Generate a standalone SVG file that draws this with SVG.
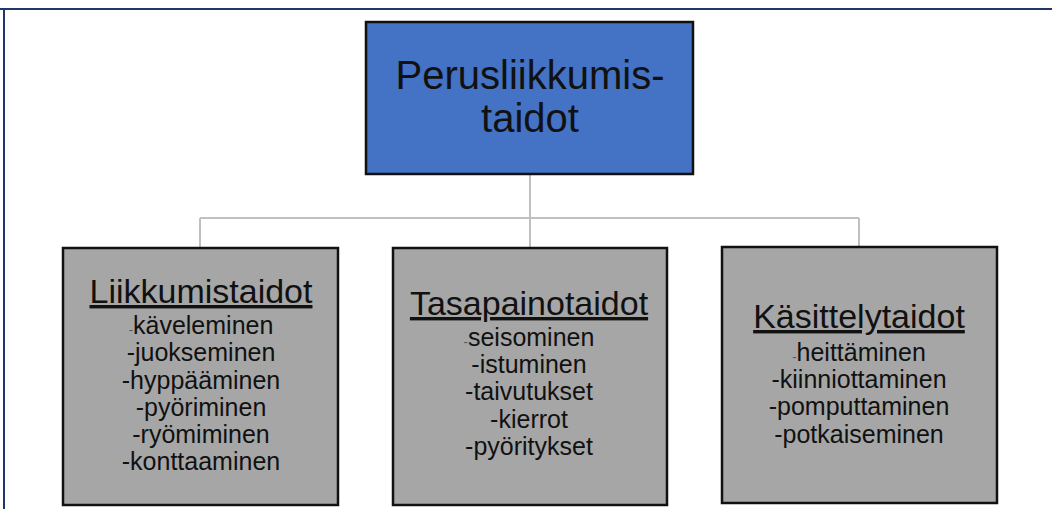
<svg xmlns="http://www.w3.org/2000/svg" width="1052" height="509" viewBox="0 0 1052 509">
  <style>
    .frame { stroke: #1f3864; stroke-width: 2; fill: none; }
    .conn { stroke: #c0c0c0; stroke-width: 2; fill: none; }
    .root { fill: #4472c4; stroke: #111; stroke-width: 2.5; }
    .child { fill: #a6a6a6; stroke: #111; stroke-width: 2.5; }
    text { font-family: "Liberation Sans", Arial, sans-serif; fill: #111; text-anchor: middle; }
    .rt { font-size: 40px; }
    .ttl { font-size: 34px; text-decoration: underline; }
    .item { font-size: 25px; }
    .sd { font-size: 13px; fill: #555; }
  </style>
  <rect x="0" y="0" width="1052" height="509" fill="#ffffff"/>
  <path class="frame" d="M0 9 H1052 M4 9 V509"/>
  <g id="connectors">
    <path class="conn" d="M530 174 V218 M200 218 H859 M200 218 V247 M530 218 V247 M859 218 V247"/>
  </g>
  <g id="node-root">
    <rect class="root" x="366" y="22" width="327" height="152"/>
    <text class="rt" x="530" y="89">Perusliikkumis-</text>
    <text class="rt" x="530" y="132">taidot</text>
  </g>
  <g id="node-liikkumistaidot">
    <rect class="child" x="63" y="248" width="275" height="257"/>
    <text class="ttl" x="201" y="303">Liikkumistaidot</text>
    <text class="item" x="201" y="334"><tspan class="sd">-</tspan>käveleminen</text>
    <text class="item" x="201" y="361">-juokseminen</text>
    <text class="item" x="201" y="389">-hyppääminen</text>
    <text class="item" x="201" y="416">-pyöriminen</text>
    <text class="item" x="201" y="443">-ryömiminen</text>
    <text class="item" x="201" y="470">-konttaaminen</text>
  </g>
  <g id="node-tasapainotaidot">
    <rect class="child" x="393" y="248" width="274" height="257"/>
    <text class="ttl" x="529" y="315">Tasapainotaidot</text>
    <text class="item" x="529" y="346"><tspan class="sd">-</tspan>seisominen</text>
    <text class="item" x="529" y="373">-istuminen</text>
    <text class="item" x="529" y="400">-taivutukset</text>
    <text class="item" x="529" y="428">-kierrot</text>
    <text class="item" x="529" y="455">-pyöritykset</text>
  </g>
  <g id="node-kasittelytaidot">
    <rect class="child" x="722" y="247" width="275" height="256"/>
    <text class="ttl" x="859" y="328">Käsittelytaidot</text>
    <text class="item" x="859" y="361"><tspan class="sd">-</tspan>heittäminen</text>
    <text class="item" x="859" y="388">-kiinniottaminen</text>
    <text class="item" x="859" y="415">-pomputtaminen</text>
    <text class="item" x="859" y="443">-potkaiseminen</text>
  </g>
</svg>
